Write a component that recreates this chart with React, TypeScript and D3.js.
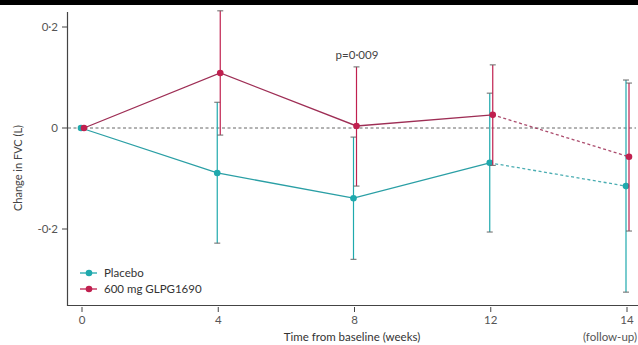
import React from 'react';
import * as d3 from 'd3';

const weeks = ['0', '4', '8', '12', '14'];
const placeboMean = [0, -0.089, -0.139, -0.069, -0.115];
const placeboLow = [0, -0.228, -0.26, -0.206, -0.325];
const placeboHigh = [0, 0.051, -0.018, 0.069, 0.095];
const drugMean = [0, 0.109, 0.004, 0.026, -0.057];
const drugLow = [0, -0.014, -0.115, -0.074, -0.204];
const drugHigh = [0, 0.232, 0.121, 0.125, 0.089];
const yTicks = [0.2, 0, -0.2];

const W = 638;
const H = 345;
const font = 'Lato, "Open Sans", sans-serif';

const x = d3.scalePoint<string>().domain(weeks).range([82, 627]);
const y = d3.scaleLinear().domain([-0.2, 0.2]).range([229, 27]);

const fmt = (v: number) => (v === 0 ? '0' : d3.format('.1f')(v).replace('.', '·').replace('−', '-'));

interface SeriesProps {
  mean: number[];
  low: number[];
  high: number[];
  color: string;
  lineColor: string;
  dx: number;
}

const Series = ({ mean, low, high, color, lineColor, dx }: SeriesProps) => {
  const pts = weeks.map((w, i) => ({ x: (x(w) ?? 0) + dx, y: y(mean[i]) }));
  const line = d3.line<{ x: number; y: number }>().x(d => d.x).y(d => d.y);
  return (
    <g>
      {weeks.map((w, i) =>
        i === 0 ? null : (
          <g key={w}>
            <line x1={pts[i].x} x2={pts[i].x} y1={y(high[i])} y2={y(low[i])} stroke={color} strokeWidth={1.2} />
            <line x1={pts[i].x - 3} x2={pts[i].x + 3} y1={y(high[i])} y2={y(high[i])} stroke="#666" strokeWidth={1} />
            <line x1={pts[i].x - 3} x2={pts[i].x + 3} y1={y(low[i])} y2={y(low[i])} stroke="#666" strokeWidth={1} />
          </g>
        )
      )}
      <path d={line(pts.slice(0, 4)) ?? ''} fill="none" stroke={lineColor} strokeWidth={1.3} />
      <path d={line(pts.slice(3)) ?? ''} fill="none" stroke={lineColor} strokeWidth={1.3} strokeDasharray="3,2.5" opacity={0.85} />
      {pts.map((p, i) => (
        <circle key={i} cx={p.x} cy={p.y} r={3.3} fill={color} />
      ))}
    </g>
  );
};

export default function App() {
  const teal = '#1fa9ad';
  const crimson = '#c0204f';
  return (
    <svg width={W} height={H} style={{ position: 'absolute', left: 0, top: 0, background: '#fff' }} fontFamily={font}>
      <rect x={0} y={0} width={W} height={5} fill="#000" />
      {/* axes */}
      <line x1={67.5} x2={67.5} y1={12} y2={306} stroke="#444" strokeWidth={1.2} />
      <line x1={67} x2={638} y1={305.5} y2={305.5} stroke="#444" strokeWidth={1.2} />
      {yTicks.map(t => (
        <g key={t}>
          <line x1={62} x2={67} y1={y(t)} y2={y(t)} stroke="#444" />
          <text x={58} y={y(t)} dy="0.35em" textAnchor="end" fontSize={11.5} fill="#555">{fmt(t)}</text>
        </g>
      ))}
      {weeks.map(w => (
        <g key={w}>
          <line x1={x(w)} x2={x(w)} y1={307} y2={312} stroke="#444" />
          <text x={x(w)} y={324} textAnchor="middle" fontSize={11.5} fill="#555">{w}</text>
        </g>
      ))}
      <text x={352} y={341} textAnchor="middle" fontSize={11.5} fill="#333">Time from baseline (weeks)</text>
      <text x={637} y={341} textAnchor="end" fontSize={11.5} fill="#555">(follow-up)</text>
      <text transform="translate(22,168) rotate(-90)" textAnchor="middle" fontSize={11} fill="#444">Change in FVC (L)</text>
      {/* zero reference */}
      <line x1={68} x2={636} y1={y(0)} y2={y(0)} stroke="#666" strokeWidth={1} strokeDasharray="3,2.5" />
      <Series mean={placeboMean} low={placeboLow} high={placeboHigh} color={teal} lineColor="#2a9fa5" dx={-1} />
      <Series mean={drugMean} low={drugLow} high={drugHigh} color={crimson} lineColor="#9e2e55" dx={2} />
      <text x={357} y={59} textAnchor="middle" fontSize={11.5} fill="#444">p=0·009</text>
      {/* legend */}
      <line x1={80} x2={97} y1={273} y2={273} stroke={teal} strokeWidth={1.3} />
      <circle cx={89} cy={273} r={3.3} fill={teal} />
      <text x={104} y={273} dy="0.35em" fontSize={11.5} fill="#333">Placebo</text>
      <line x1={80} x2={97} y1={289} y2={289} stroke={crimson} strokeWidth={1.3} />
      <circle cx={89} cy={289} r={3.3} fill={crimson} />
      <text x={104} y={289} dy="0.35em" fontSize={11.5} fill="#333">600 mg GLPG1690</text>
    </svg>
  );
}
